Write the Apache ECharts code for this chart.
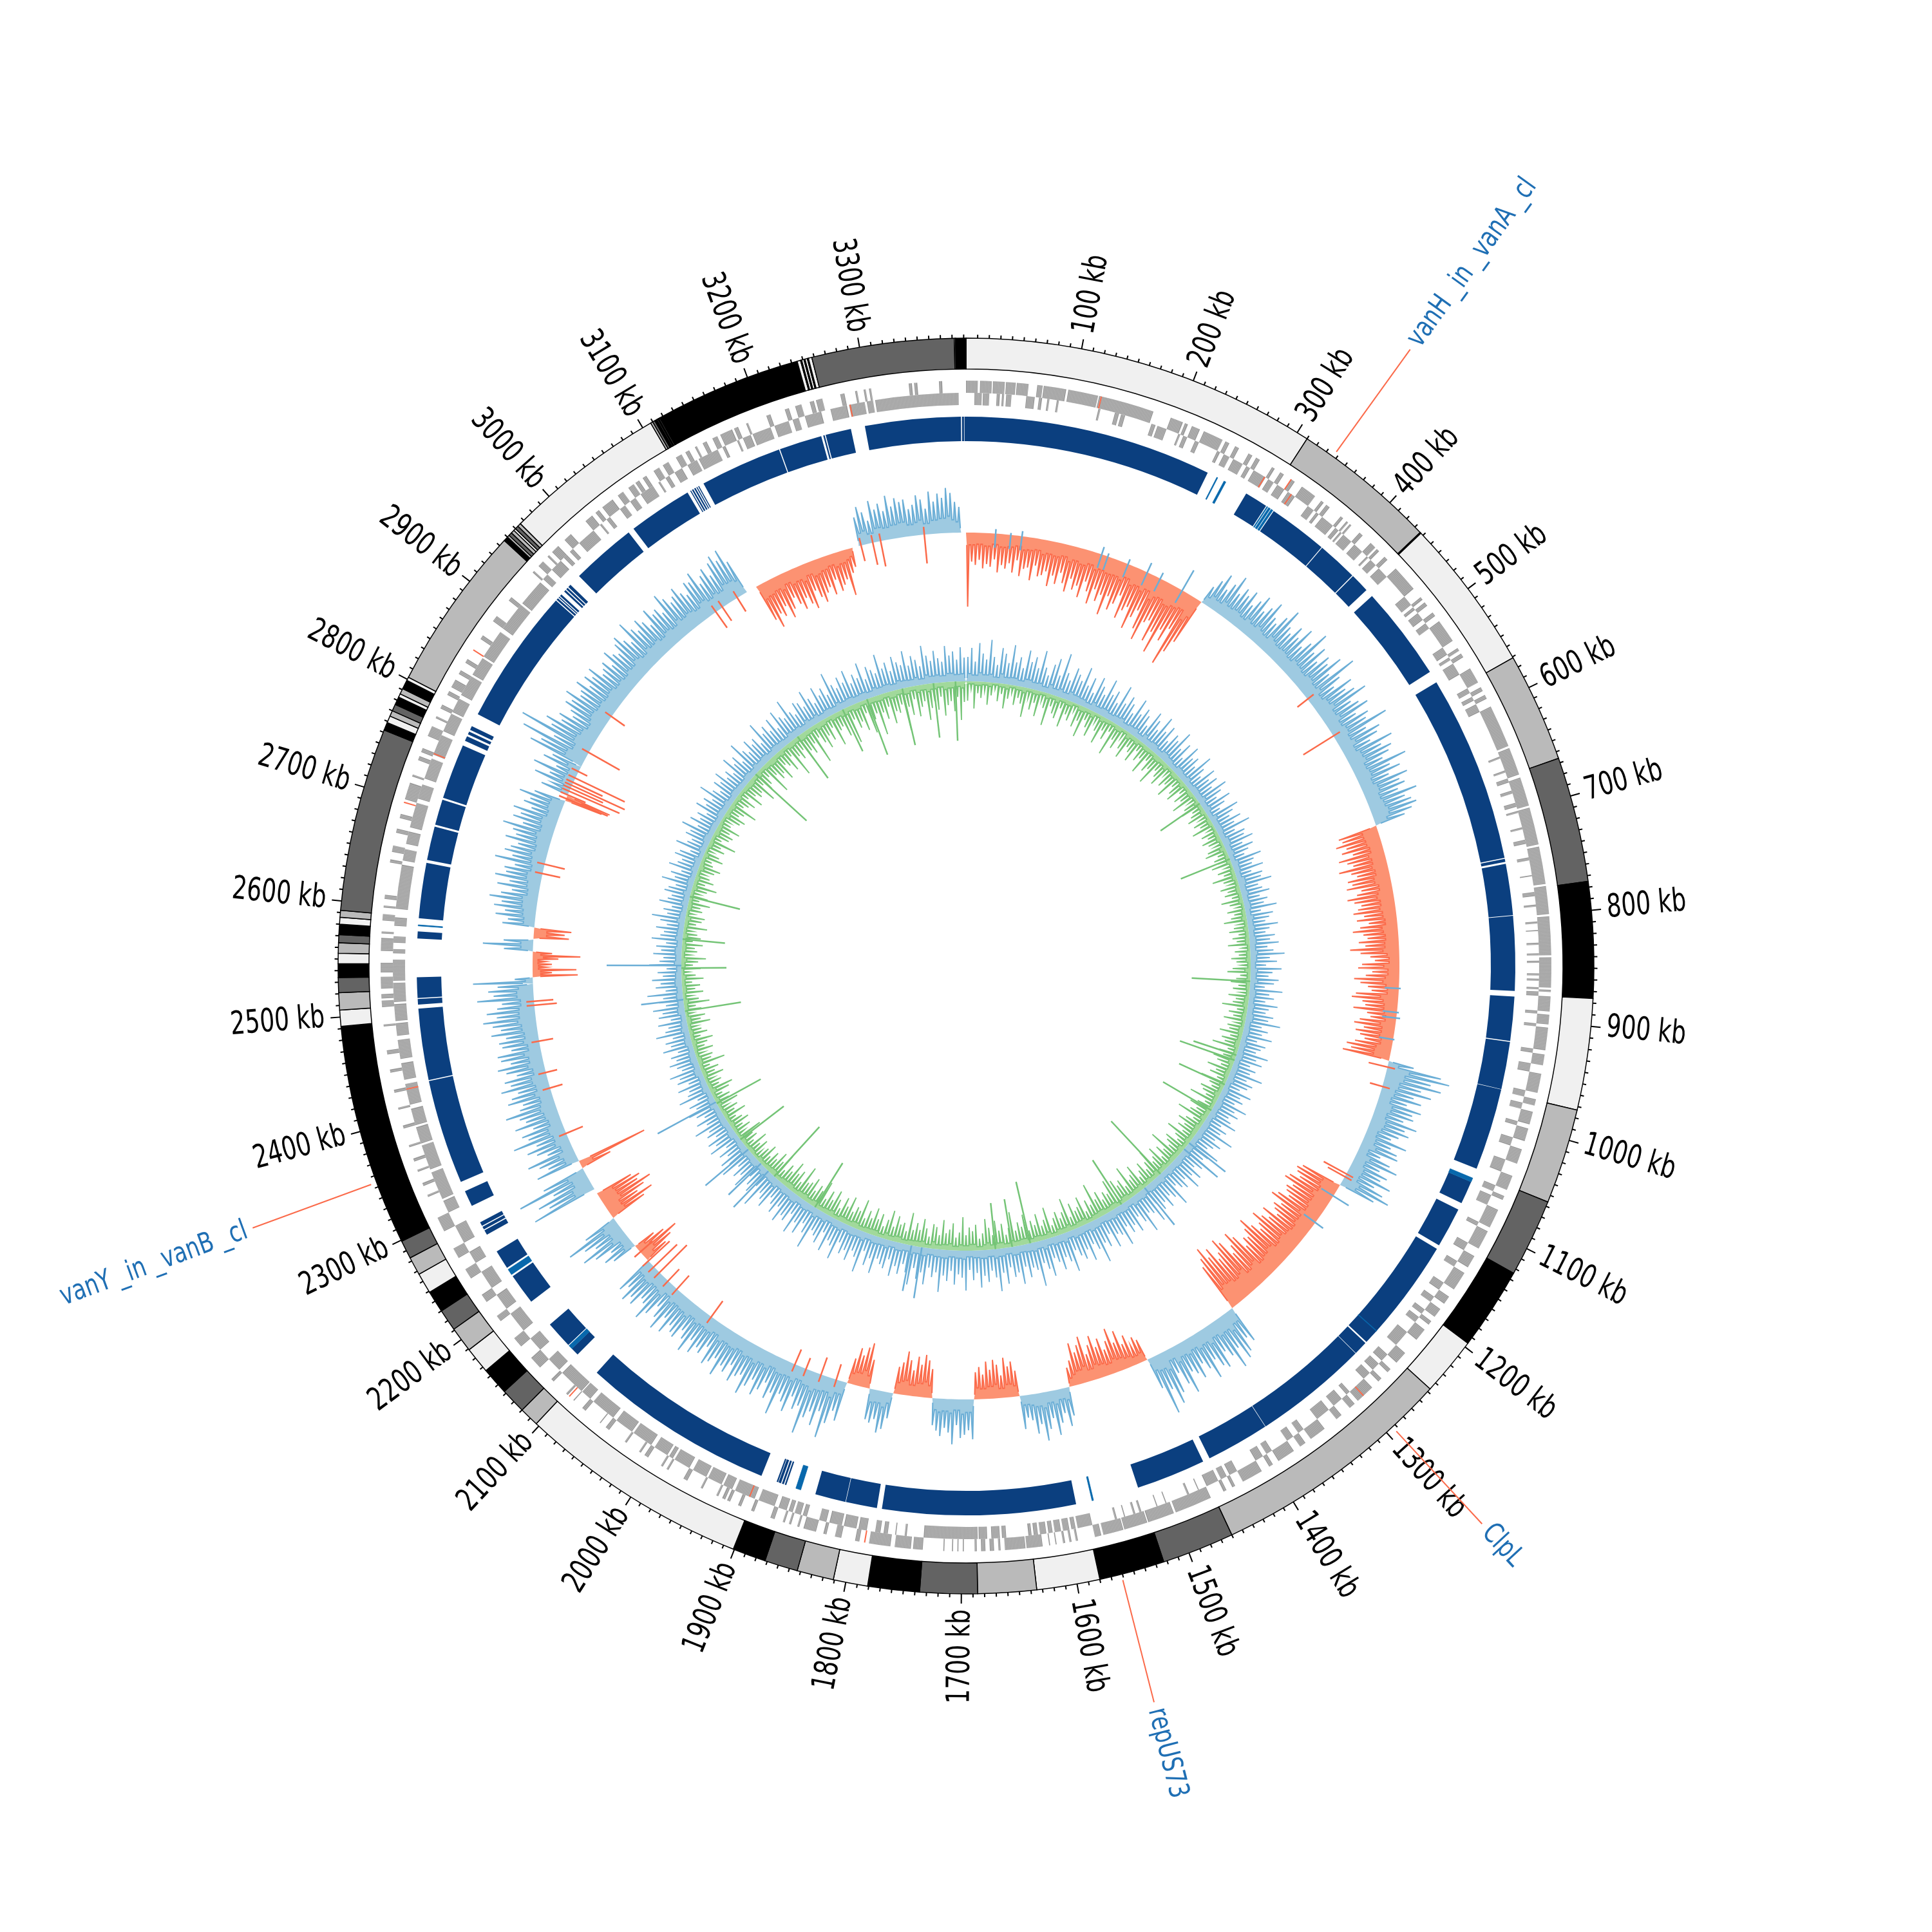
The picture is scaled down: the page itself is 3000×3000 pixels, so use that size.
<!DOCTYPE html>
<html><head><meta charset="utf-8">
<script src="https://cdn.jsdelivr.net/npm/echarts@6/dist/echarts.min.js"></script>
<style>html,body{margin:0;background:#fff}#c{width:3000px;height:3000px}</style></head>
<body><div id="c"></div>
<script>
const genomeKb = 3392;
const tickLabels = [100,200,300,400,500,600,700,800,900,1000,1100,1200,1300,1400,1500,1600,1700,1800,1900,2000,2100,2200,2300,2400,2500,2600,2700,2800,2900,3000,3100,3200,3300];
const calloutNames = ['vanH _in _vanA _cl','ClpL','repUS73','vanY _in _vanB _cl'];
const calloutKb = [337,1293,1561,2354];
// outer ideogram: band edges and the shade of the band that starts at each edge
const bandEdge = [0,310,436.5,437.5,571,666,775,876,973,1056,1124,1196,1247,1460,1523,1580,1635,1686,1736,1781,1811,1843,1872,1901,2103,2120,2142,2166,2189,2211,2230,2249,2267,2283,2299,2492,2506,2521,2534,2546,2555,2564,2571,2580,2586,2592,2752,2759,2765,2770,2776,2783,2786,2791,2799,2802,2946,2950,2952,2955,2958,2960,2963,2966,3108,3110,3112,3114,3115,3116,3117,3118,3245,3248,3249,3251,3252,3254,3255,3258,3382,3383,3392];
const bandShade = ['L','G','K','L','G','D','K','L','G','D','K','L','G','D','K','L','G','D','K','L','G','D','K','L','G','D','K','L','G','D','K','L','G','D','K','L','G','D','K','L','G','D','K','L','G','D','K','L','G','D','K','L','G','K','L','G','K','G','D','G','L','D','G','L','G','D','K','L','K','L','K','K','L','K','L','K','L','K','L','D','L','K'];
const shades = {L:'#f0f0f0',G:'#bababa',D:'#636363',K:'#000000'};
// contig blocks
const contigs = [[0,246],[289,312],[321,380],[380.8,421],[422,441],[449,543],[555,741],[742,745],[747,798],[798.5,872.5],[878,922],[923,970],[970.4,1052],[1066,1089],[1096,1136],[1140,1255],[1256.5,1270],[1270.5,1384.5],[1385,1448],[1455,1524],[1587,1779],[1784,1815],[1815.5,1846],[1876,1877.5],[1878.5,1880.5],[1881.5,1884],[1884.5,1886],[1902,2094],[2120,2128],[2133,2160],[2189,2220],[2230,2249],[2268,2273],[2274,2277],[2278,2282],[2300,2316],[2326,2430],[2431,2502],[2506,2511.5],[2512.5,2533],[2571,2578],[2591,2646],[2649,2682.5],[2684.5,2710],[2712,2767],[2772,2777],[2779,2782],[2784,2788],[2801,2937],[2938,2940],[2941,2942],[2943,2945],[2949,2951],[2952,2954],[2955,2958],[2970,3035],[3041,3105],[3108,3109],[3110,3111.5],[3112.5,3114],[3115,3116],[3117,3118],[3123,3204.5],[3205.5,3248],[3250,3251.5],[3252.5,3278],[3292,3387],[3388,3390],[3390.5,3392]];
const contigsThin = [[256,257],[264,266],[313,314],[315,317],[318,320],[1062,1066],[1240,1240.6],[1569.5,1571],[1861,1866],[2128,2132],[2222,2228],[2583.5,2584.5]];
// genes on the two strands
const geneOuter = [0,11,13,24,25,36,37,46,47,58,66,71,72,93,95,123,124,176,193,205,207,210,214,222,226,245,248,252,258,262,272,276,280,284,297,300,306,310,318,322,330,345,352,355,358,362,375,378,382,384,386,388,398,402,412,418,420,423,430,434,445,470,480,483,486,490,498,502,508,530,538,541,544,548,560,575,580,584,588,592,600,640,642,668,671,698,700,735,737,772,774,800,802,838,840,868,870,872,876,890,893,902,905,926,930,940,948,966,972,978,984,996,1000,1012,1020,1034,1046,1060,1066,1070,1080,1098,1102,1120,1128,1140,1146,1164,1172,1180,1186,1195,1200,1204,1210,1222,1238,1250,1258,1262,1270,1274,1282,1300,1304,1310,1320,1326,1340,1356,1362,1368,1375,1392,1398,1402,1410,1430,1438,1441,1447,1450,1463,1498,1500,1525,1526,1548,1549,1568,1570,1576,1592,1594,1598,1600,1604,1606,1612,1613,1618,1619,1625,1640,1641,1660,1664,1666,1670,1674,1678,1682,1686,1688,1698,1699,1703,1704,1708,1709,1716,1717,1736,1745,1747,1762,1766,1786,1795,1799,1812,1818,1826,1829,1836,1848,1852,1854,1860,1862,1866,1868,1876,1880,1896,1899,1909,1912,1920,1923,1925,1928,1932,1934,1948,1950,1964,1968,1984,1986,1990,1992,2006,2010,2014,2016,2030,2032,2050,2054,2060,2061,2078,2082,2092,2093,2100,2102,2118,2121,2136,2148,2162,2172,2192,2198,2214,2222,2240,2250,2262,2272,2290,2304,2325,2327,2336,2339,2350,2352,2360,2363,2374,2376,2392,2395,2410,2412,2426,2429,2445,2448,2462,2466,2488,2490,2506,2512,2514,2518,2523,2534,2538,2547,2558,2570,2574,2576,2586,2592,2598,2600,2606,2610,2640,2643,2650,2656,2668,2672,2682,2686,2700,2716,2722,2724,2738,2742,2746,2750,2762,2772,2780,2782,2790,2794,2804,2808,2812,2820,2826,2830,2838,2842,2864,2868,2884,2890,2908,2912,2942,2944,2950,2956,2962,2964,2968,2976,2984,2992,3010,3018,3022,3026,3030,3042,3048,3054,3060,3066,3068,3072,3076,3080,3088,3094,3098,3104,3112,3118,3122,3126,3132,3134,3140,3144,3150,3155,3158,3170,3172,3176,3184,3186,3204,3208,3222,3226,3232,3238,3246,3250,3252,3258,3275,3279,3289,3291,3297,3299,3302,3304,3339,3342,3344,3347,3367,3370];
const geneInner = [8,15,16,22,29,32,34,36,38,43,57,65,69,72,77,79,86,88,126,128,142,146,148,152,178,182,184,193,205,207,210,214,222,226,245,248,252,258,262,272,276,280,284,297,300,306,310,318,322,330,345,352,355,358,362,375,378,382,384,386,388,398,402,412,418,420,423,430,434,445,470,480,483,486,490,498,502,508,530,538,541,544,548,560,575,580,584,588,592,600,646,648,660,662,668,672,680,683,692,696,700,702,716,718,728,732,745,748,762,763,778,782,790,792,806,808,814,815,826,828,836,838,843,845,855,857,860,862,868,870,872,876,890,893,902,905,926,930,940,948,966,972,978,984,996,1000,1012,1020,1034,1046,1060,1066,1070,1080,1098,1102,1120,1128,1140,1146,1164,1172,1180,1186,1195,1200,1204,1210,1222,1238,1250,1258,1262,1270,1274,1282,1300,1304,1310,1320,1326,1340,1356,1362,1368,1375,1392,1398,1402,1410,1430,1438,1441,1447,1450,1462,1470,1471,1480,1482,1503,1504,1512,1513,1528,1530,1534,1536,1544,1545,1552,1554,1576,1590,1592,1596,1598,1604,1606,1612,1614,1618,1620,1626,1628,1632,1634,1637,1658,1662,1664,1672,1676,1684,1685,1736,1752,1754,1762,1763,1770,1774,1777,1782,1790,1798,1800,1812,1814,1826,1829,1836,1848,1852,1854,1860,1862,1866,1868,1876,1880,1896,1900,1920,1923,1932,1934,1948,1950,1964,1968,1984,1986,1990,1992,2006,2010,2030,2032,2050,2054,2078,2082,2092,2093,2118,2122,2136,2148,2162,2172,2192,2198,2214,2222,2240,2250,2262,2272,2290,2304,2316,2318,2345,2348,2372,2374,2390,2392,2408,2412,2432,2436,2452,2456,2474,2478,2490,2492,2508,2510,2528,2530,2550,2556,2560,2566,2572,2582,2590,2598,2640,2644,2655,2660,2672,2676,2700,2704,2718,2724,2744,2748,2768,2772,2790,2792,2806,2810,2830,2832,2850,2852,2880,2884,2912,2914,2940,2944,2950,2956,2968,2972,2976,2980,2984,2992,3010,3018,3020,3026,3030,3042,3048,3054,3060,3066,3080,3086,3088,3094,3098,3104,3112,3118,3128,3130,3150,3155,3158,3170,3172,3176,3184,3186,3204,3208,3222,3226,3232,3238,3254,3263,3279,3281,3296,3298,3304,3306,3385];
const geneHitKb = [126,296,318,326,1293,1905,2098,2427,2697,2749,2852,3282,1790];
// GC skew runs: start, end, direction
const skewStart = [0,310,670,967,1134,1339,1463,1566,1629,1686,1738,1787,1817,1846,2141,2165,2209,2252,2282,2292,2522,2530,2562,2578,2592,2755,2762,2802,3119,3257];
const skewEnd = [310,670,967,1134,1339,1463,1566,1629,1686,1738,1787,1817,1846,2141,2165,2209,2246,2282,2292,2522,2530,2562,2577,2592,2755,2762,2802,3106,3249,3386];
const skewDir = [-1,1,-1,1,-1,1,-1,1,-1,1,-1,1,-1,1,-1,1,-1,1,-1,1,1,-1,1,-1,1,-1,1,1,-1,1];
const skewValues = [
[115,45,50,42,55,48,52,40,60,48,53,44,58,38,62,50,47,66,42,58,55,48,70,52,64,45,60,72,50,66,58,75,48,62,80,55,72,60,90,58,78,66,50,85,70,62,95,74,60,88,104,72,66,98,80,112,70,86,62,120,96,75],
[30,45,60,38,52,70,44,58,50,62,42,55,68,46,58,72,50,44,62,80,55,48,66,52,74,46,60,85,54,70,48,66,58,78,50,92,60,44,72,56,68,84,52,62,74,48,66,58,90,50,70,62,46,80,58,72,64,50,86,56,70,48,76,60,66,52,80,58,66,72,62,48],
[62,58,70,55,64,48,72,60,52,76,58,50,66,60,70,48,56,72,62,52,58,66,50,62,44,58,70,54,48,62,52,76,60,45,38,58,64,42,52,70,60,48,42,66,72,55,50,68,46,40,56,64,48,60,52,44,58,70,62,74],
[40,85,100,72,90,60,78,52,66,45,70,58,62,48,72,55,64,50,40,68,45,58,62,36,55,70,44,60,52,72,48,66,80,58],
[65,72,68,60,75,80,62,70,66,58,74,82,60,70,64,55,78,62,72,85,68,60,74,92,78,66,70,58,82,94,75,64,90,100,80,72,96,84,105,90,78],
[60,50,70,78,55,85,60,48,72,65,50,78,58,45,66,55,48,80,62,40,70,85,58,95,50],
[35,42,30,50,38,62,45,70,52,40,60,48,68,55,42,72,60,50,66,40,30],
[45,60,38,52,70,42,58,75,48,62,40,35,52],
[40,55,48,62,35,52,60,45,58,38,50,42],
[62,48,55,60,40,70,52,45,58,50,42],
[45,58,66,50,62,40,55,68,50,42],
[40,58,65,45,52,48],
[45,70,62,48,58,40],
[62,48,70,95,55,80,60,72,100,58,66,48,75,62,52,88,56,68,45,60,72,50,64,80,52,58,70,46,62,55,75,50,60,68,42,58,52,66,48,72,55,44,62,58,50,68,46,72,56,40,60,75,52,48,66,58,70,50,62],
[40,55,70,50,35],
[40,52,35,60,78,50,66,90,55],
[60,78,55,70,85,65,72,60],
[105,75,90,60,115,70],
[50,112],
[70,48,60,76,40,55,68,50,85,58,66,45,72,52,60,80,55,48,70,62,50,75,58,66,45,60,72,50,64,68,45,58,62,50,72,56,68,82,60,75,58,50,88,62,70,55],
[93,28],
[70,30,68,22,30,20,40,74,30],
[45,78,46],
[55,48,58],
[50,42,62,48,66,55,75,58,42,66,48,72,56,60,45,78,52,66,58,48,70,55,62,80,50,68,58,72,45,60,52,72,50],
[60,72],
[45,30,62,40,70,35,60,48],
[90,75,110,60,120,72,85,62,70,50,58,72,65,80,58,62,75,55,70,60,72,50,55,62,48,70,58,52,66,74,60,50,82,64,55,70,60,48,72,58,62,50,78,66,54,60,70,56,48,66,62,74,50,60,68,52,70,78,66,80,56],
[60,75,55,62,48,70,58,42,55,66,50,62,72,45,58,68,55,48,62,40,60,52,45,72,38,30],
[45,60,50,35,65,50,58,45,68,50,62,55,58,42,48,62,55,40,66,50,62,55,70,62,48,40]];
const skewSpikeKb = [37,56,70,172,180,207,233,251,282,546,490,975,1000,1118,1122,1860,1880,1900,1915,2035,2090,2105,2120,2130,2140,2155,2330,2390,2410,2450,2495,2500,2660,2672,2758,2763,2768,2772,2776,2780,2786,2795,2822,2875,3060,3070,3092,3260,3275,3285,3340,876,906,913,940,1150,1190];
const skewSpikeVal = [7,3,8,12,5,8,16,10,36,-55,-20,-30,-20,-40,-30,-25,-28,-18,-25,-30,-28,-25,-60,-50,-45,-25,-28,-20,-18,-22,-35,-30,-28,-32,-70,-30,-85,-55,-90,-50,-85,-15,-55,-25,-30,-25,-25,-25,-35,-40,-45,3,3,6,2,28,15];
// GC content: outward and inward excursions
const gcOut = [
38,52,31,60,44,35,66,40,28,55,47,33,62,36,45,29,58,41,50,34,63,38,27,46,57,32,69,40,30,52,44,36,60,33,48,26,54,42,31,59,
37,46,29,61,35,50,41,28,56,34,47,39,25,53,43,30,57,36,49,27,44,38,58,32,46,24,51,35,41,29,55,37,26,48,33,44,30,52,39,27,
47,34,22,50,38,29,45,31,54,26,40,36,48,28,43,33,24,49,35,30,46,25,41,37,52,29,34,44,27,38,31,50,24,42,35,28,47,33,26,40,
32,45,27,36,53,30,41,24,48,34,28,44,37,23,51,31,39,26,46,33,29,42,35,55,27,38,30,47,25,40,34,28,49,32,43,26,37,30,52,29,
41,35,25,46,31,38,27,50,33,42,29,36,48,26,39,32,57,30,44,35,28,52,38,33,62,41,30,48,36,55,32,44,38,29,60,42,34,50,37,46,
31,58,40,35,64,43,30,52,38,47,33,61,41,36,55,30,48,39,68,44,33,57,37,50,42,31,63,45,36,54,40,32,59,46,35,70,43,38,52,34,
60,41,47,31,56,38,66,44,33,50,40,58,35,46,30,62,42,37,53,32,48,40,66,36,44,30,57,39,50,34,61,43,31,48,37,54,29,45,40,33,
58,36,49,28,64,42,34,52,38,46,30,60,41,35,55,27,48,39,33,66,44,31,52,37,58,29,45,40,54,32,47,36,28,50,41,34,62,30,46,38,
26,52,35,44,29,55,37,48,31,42,25,50,36,46,28,40,33,54,30,44,27,38,48,32,41,24,52,35,30,46,26,42,36,50,28,34,44,31,38,25,
47,33,40,27,52,36,30,45,24,42,35,49,28,38,31,55,26,41,33,46,29,37,23,50,34,28,44,32,40,25,48,35,30,43,27,38,52,29,36,24,
45,33,28,41,36,26,50,31,39,24,46,34,29,43,37,22,48,32,27,40,35,52,28,44,30,38,25,47,33,41,29,55,36,26,42,34,48,30,38,27,
52,35,44,28,58,39,31,48,36,42,28,60,37,46,33,50,29,55,41,35,62,38,30,47,43,33,56,40,29,52,36,45,31,64,42,34,49,38,55,32,
44,36,58,30,48,41,34,62,38,46,31,52,42,36,57,33,47,40,29,60,44,35,50,38,32,56,41,47,34,53,37];
const gcIn = [
30,12,42,18,25,14,35,20,10,28,16,38,22,12,30,18,26,46,15,32,20,40,14,24,50,18,28,34,16,44,22,30,12,36,24,48,18,28,40,14,
26,44,20,32,16,52,24,36,14,30,42,20,26,38,16,30,22,44,18,34,26,48,20,28,38,14,32,24,42,18,28,36,16,30,22,40,14,26,34,18,
24,32,14,28,20,36,12,26,18,30,22,14,28,34,16,24,20,32,12,26,18,38,22,14,30,20,26,16,34,22,12,28,18,24,36,14,22,30,16,26,
20,34,12,24,18,30,22,14,28,36,16,22,30,18,26,14,32,20,24,40,16,28,20,34,14,26,22,36,18,30,24,42,16,28,20,34,26,18,38,22,
30,16,40,24,18,34,28,20,44,16,26,36,22,30,48,18,28,38,24,32,20,44,26,18,36,30,22,52,24,34,18,40,28,22,46,30,20,36,26,18,
42,30,24,50,20,34,28,40,18,46,26,32,22,38,28,56,24,34,18,44,30,26,40,20,52,32,24,36,28,18,48,30,22,42,26,34,20,46,28,36,
24,54,30,20,38,28,44,22,34,48,26,18,40,30,36,24,52,28,20,42,32,26,46,22,34,38,18,30,44,26,36,24,50,20,32,28,40,22,46,30,
18,36,26,42,24,34,20,48,28,32,22,44,26,38,18,30,42,24,36,20,46,28,34,22,40,30,26,50,20,36,28,44,24,32,18,42,26,38,22,30,
18,34,24,14,30,20,36,16,26,22,40,14,28,18,32,24,16,36,20,28,14,34,22,26,16,30,38,18,24,14,32,20,28,16,42,22,26,14,30,18,
24,34,16,28,20,14,36,22,30,12,26,18,40,24,14,32,20,28,16,34,22,12,30,18,26,38,14,24,20,32,16,28,22,14,36,18,26,30,12,24,
20,34,16,28,14,24,38,18,30,22,14,26,34,20,16,32,24,12,28,20,42,16,26,30,22,36,18,14,28,34,20,26,44,18,24,32,16,38,22,30,
26,46,20,34,28,18,52,24,36,30,44,22,28,40,18,56,26,34,22,48,30,38,24,60,20,32,44,26,36,18,50,28,24,42,32,58,22,38,30,46,
20,54,34,26,62,28,40,22,50,32,36,24,66,30,44,20,48,34,26,56,38,28,42,22,52,36,30,46,24,60,32];
const gcOutBigKb = [1330,2545,2110,2130,2480,1780,1800,1210,1225,2275,2166];
const gcOutBigVal = [74,116,78,70,66,80,72,72,68,103,87];
const gcInBigKb = [877,1135,1290,1384,1573,1608,1640,2943,3270,3330,3200,3150,3372,2677,2458,2095,1998,2190,2272,1080,1020,640,520,2540,2595,3050,1030];
const gcInBigVal = [91,87,112,82,98,75,72,107,90,85,92,72,92,80,88,104,81,85,78,78,70,82,74,70,66,80,90];

const RING_OUT=975,RING_IN=927,GENE_OUT=909,GENE_MID=890,GENE_IN=871,CONTIG_OUT=853,CONTIG_IN=815,SKEW_BASE=673,GC_BASE=442;
const TAU=Math.PI*2;
function sector(api,a0,a1,r0,r1,style){
  const c=api.coord([0,0]),p=api.coord([r1,a0]),q=api.coord([r1,a1]),m=api.coord([r0,a0]);
  let s=Math.atan2(p[1]-c[1],p[0]-c[0]),e=Math.atan2(q[1]-c[1],q[0]-c[0]);
  if(e<s)e+=TAU;
  return {type:'sector',shape:{cx:c[0],cy:c[1],r:Math.hypot(p[0]-c[0],p[1]-c[1]),r0:Math.hypot(m[0]-c[0],m[1]-c[1]),startAngle:s,endAngle:e,clockwise:true},style};
}
function radial(api,a,r0,r1,color,w,opacity){
  const p=api.coord([r0,a]),q=api.coord([r1,a]);
  return {type:'line',shape:{x1:p[0],y1:p[1],x2:q[0],y2:q[1]},style:{stroke:color,lineWidth:w,opacity:opacity==null?1:opacity}};
}
function radialText(api,a,r,text,font,color,sx){
  const p=api.coord([r,a]),deg=a/genomeKb*360,right=deg<180;
  return {type:'text',x:p[0],y:p[1],scaleX:sx,rotation:((right?90:270)-deg)*Math.PI/180,
    style:{text,font,fill:color,align:right?'left':'right',verticalAlign:'middle'}};
}
function geneBlock(api,g,r0,r1){
  const kids=[sector(api,g[0],g[1],r0,r1,{fill:'#9c9c9c'})];
  for(let a=g[0]+1.3;a<g[1]-.4;a+=1.3)kids.push(radial(api,a,r0,r1,'#fff',1,.3));
  return {type:'group',children:kids};
}
function needleTrack(api,base,dir,start,end,vals,fill,stroke,floorRatio,spread,width){
  const n=vals.length,step=(end-start)/n,top=[],low=[];
  const pt=(a,v)=>{const p=api.coord([base+dir*v,a]);return [p[0],p[1]];};
  for(let i=0;i<n;i++){
    const a=start+(i+.5)*step;
    const prev=i?vals[i-1]:vals[i]*.4, next=i<n-1?vals[i+1]:vals[i]*.4;
    const fl=Math.min(vals[i],prev)*floorRatio, fr=Math.min(vals[i],next)*floorRatio;
    top.push(pt(a-step*spread,fl),pt(a,vals[i]),pt(a+step*spread,fr));
  }
  const poly=[pt(start,0),...top,pt(end,0)];
  for(let a=end;a>=start;a-=step)low.push(pt(a,0));
  return {type:'group',children:[
    {type:'polygon',shape:{points:poly.concat(low)},style:{fill}},
    {type:'polyline',shape:{points:top},style:{stroke,lineWidth:width,fill:null,lineJoin:'miter'}}]};
}
function customOf(data,renderItem){return {type:'custom',coordinateSystem:'polar',clip:false,silent:true,animation:false,data,renderItem};}
const idx=a=>a.map((_,i)=>[i]);
function pairs(a){const o=[];for(let i=0;i+1<a.length;i+=2)o.push([a[i],a[i+1]]);return o;}
const tickKb=[];for(let k=10;k<genomeKb;k+=10)tickKb.push(k);
const outerPairs=pairs(geneOuter),innerPairs=pairs(geneInner);

const series=[
 customOf(bandEdge.slice(0,-1).map(e=>[e]),(p,api)=>{const i=p.dataIndex;return sector(api,bandEdge[i],bandEdge[i+1],RING_IN,RING_OUT,{fill:shades[bandShade[i]||'D'],stroke:'#000',lineWidth:1.5});}),
 customOf(tickKb.map(k=>[k]),(p,api)=>{const k=tickKb[p.dataIndex],big=k%100===0;return radial(api,k,RING_OUT,RING_OUT+(big?15:5.5),'#000',2);}),
 customOf(idx(tickLabels),(p,api)=>radialText(api,tickLabels[p.dataIndex],999,tickLabels[p.dataIndex]+' kb','50px "DejaVu Sans"','#000',.72)),
 customOf(outerPairs,(p,api)=>geneBlock(api,outerPairs[p.dataIndex],GENE_MID,GENE_OUT)),
 customOf(innerPairs,(p,api)=>geneBlock(api,innerPairs[p.dataIndex],GENE_IN,GENE_MID)),
 customOf(idx(geneHitKb),(p,api)=>{const k=geneHitKb[p.dataIndex],o=p.dataIndex%2;return radial(api,k,o?GENE_IN:GENE_MID,o?GENE_MID:GENE_OUT,'#fb6a4a',2);}),
 customOf(idx(contigs),(p,api)=>{const g=contigs[p.dataIndex];return sector(api,g[0],g[1],CONTIG_IN,CONTIG_OUT,{fill:'#0b3f7f'});}),
 customOf(idx(contigsThin),(p,api)=>{const g=contigsThin[p.dataIndex];return sector(api,g[0],g[1],CONTIG_IN,CONTIG_OUT,{fill:'#0868ac',stroke:'#0868ac',lineWidth:.8});}),
 customOf(idx(skewStart),(p,api)=>{const i=p.dataIndex,d=skewDir[i];return needleTrack(api,SKEW_BASE,d,skewStart[i],skewEnd[i],skewValues[i],d>0?'#9ecae1':'#fc9272',d>0?'#6baed6':'#fb6a4a',.42,.3,2);}),
 customOf(idx(skewSpikeKb),(p,api)=>{const v=skewSpikeVal[p.dataIndex];return radial(api,skewSpikeKb[p.dataIndex],SKEW_BASE+(v>0?-22:12),SKEW_BASE+v,v>0?'#6baed6':'#fb6a4a',2.5);}),
 customOf([[0]],(p,api)=>needleTrack(api,GC_BASE,1,0,genomeKb,gcOut,'#9ecae1','#6baed6',.32,.2,1.8)),
 customOf(idx(gcOutBigKb),(p,api)=>radial(api,gcOutBigKb[p.dataIndex],GC_BASE,GC_BASE+gcOutBigVal[p.dataIndex],'#6baed6',2.5)),
 customOf([[0]],(p,api)=>needleTrack(api,GC_BASE,-1,0,genomeKb,gcIn,'#a1d99b','#74c476',.32,.2,1.8)),
 customOf(idx(gcInBigKb),(p,api)=>radial(api,gcInBigKb[p.dataIndex],GC_BASE,GC_BASE-gcInBigVal[p.dataIndex],'#74c476',2.5)),
 customOf(idx(calloutKb),(p,api)=>radial(api,calloutKb[p.dataIndex],984,1180,'#fb6a4a',2)),
 customOf(idx(calloutKb),(p,api)=>radialText(api,calloutKb[p.dataIndex],1190,calloutNames[p.dataIndex],'44px "DejaVu Sans"','#1f6fb4',.76))
];
const chart=echarts.init(document.getElementById('c'),null,{renderer:'canvas',width:3000,height:3000});
chart.setOption({animation:false,backgroundColor:'#fff',
  polar:{center:[1500,1500],radius:[0,975]},
  angleAxis:{type:'value',min:0,max:genomeKb,startAngle:90,clockwise:true,show:false},
  radiusAxis:{type:'value',min:0,max:975,show:false},
  series});
</script></body></html>
